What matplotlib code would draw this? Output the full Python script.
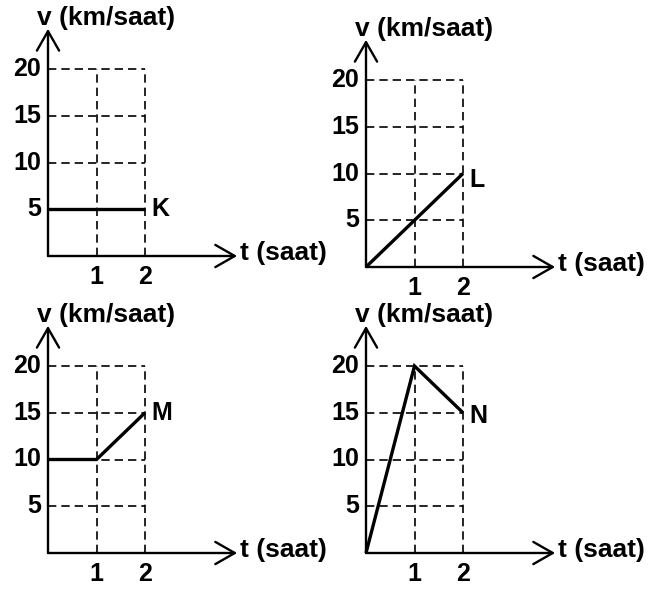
import matplotlib.pyplot as plt

# Velocity-time graphs of four vehicles K, L, M, N
times = [0, 1, 2]
v_K = [5, 5, 5]
v_L = [0, 5, 10]
v_M = [10, 10, 15]
v_N = [0, 20, 15]
names = ['K', 'L', 'M', 'N']
v_ticks = [5, 10, 15, 20]
t_ticks = [1, 2]

W, H = 665, 589
SX, SY = 48.5, 9.35  # pixels per hour, pixels per km/saat
FONT = 'Liberation Sans'

fig = plt.figure(figsize=(W / 100, H / 100), dpi=100)


def draw_panel(ox, oy, speeds, name, label_dy):
    # one full-figure axes per panel, origin placed at pixel (ox, oy)
    ax = fig.add_axes([0, 0, 1, 1])
    ax.set_facecolor('none')
    ax.axis('off')
    ax.set_xlim(-ox / SX, (W - ox) / SX)
    ax.set_ylim(-(H - oy) / SY, oy / SY)

    # dashed guide lines
    for v in v_ticks:
        ax.plot([0, t_ticks[-1]], [v, v], color='black', lw=1.2, dashes=(5, 3))
    for t in t_ticks:
        ax.plot([t, t], [0, v_ticks[-1]], color='black', lw=1.2, dashes=(5, 3))

    # axes with open arrow heads
    arrow = dict(arrowstyle='->,head_length=0.7,head_width=0.4', lw=1.7,
                 color='black', mutation_scale=20, shrinkA=0, shrinkB=0)
    ax.annotate('', xy=(0, 24.3), xytext=(0, 0), arrowprops=arrow)
    ax.annotate('', xy=(3.9, 0), xytext=(0, 0), arrowprops=arrow)

    # the motion graph
    ax.plot(times, speeds, color='black', lw=2.4, solid_joinstyle='miter',
            solid_capstyle='butt')

    # labels
    ax.text(-0.22, 24.7, 'v (km/saat)', ha='left', va='baseline', fontsize=19,
            fontweight='bold', family=FONT)
    ax.text(3.95, 0.3, 't (saat)', ha='left', va='center', fontsize=19,
            fontweight='bold', family=FONT)
    for v in v_ticks:
        ax.text(-0.14, v, str(v), ha='right', va='center', fontsize=18,
                fontweight='bold', family=FONT)
    for t in t_ticks:
        ax.text(t, -0.96, str(t), ha='center', va='top', fontsize=18,
                fontweight='bold', family=FONT)
    ax.text(times[-1] + 0.13, speeds[-1] + label_dy, name, ha='left', va='center',
            fontsize=18, fontweight='bold', family=FONT)


draw_panel(48, 256, v_K, names[0], 0)
draw_panel(366, 267, v_L, names[1], -0.7)
draw_panel(48, 553, v_M, names[2], 0)
draw_panel(366, 553, v_N, names[3], -0.4)

fig.savefig('out.png', dpi=100)
